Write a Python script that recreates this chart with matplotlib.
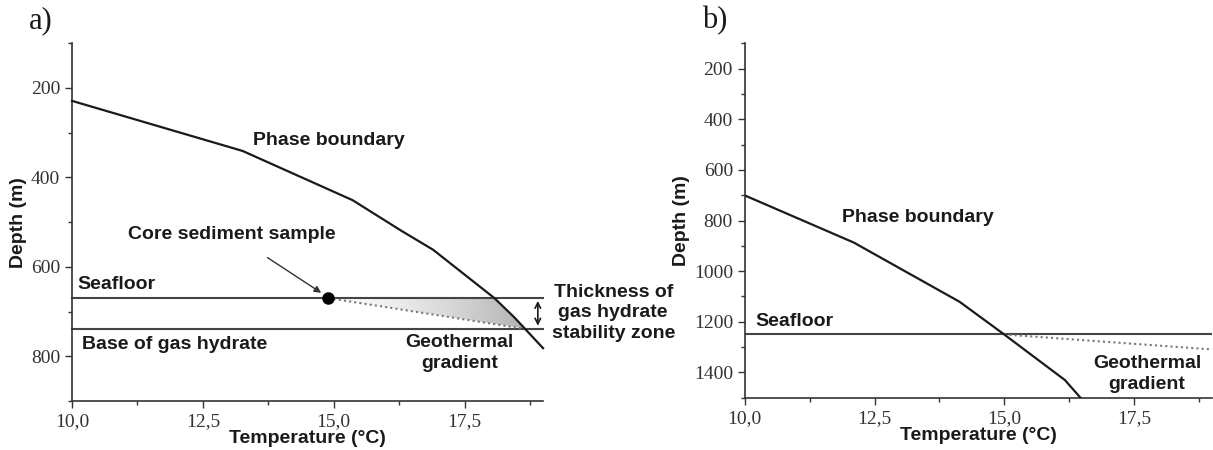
import numpy as np
import matplotlib
matplotlib.use("Agg")
import matplotlib.pyplot as plt
from matplotlib.patches import Polygon
from matplotlib.ticker import MultipleLocator, FuncFormatter

# panel a data
phase_a_temp = [10.0, 13.26, 15.36, 16.3, 16.9, 18.07, 18.45, 19.0]
phase_a_depth = [229, 341, 451, 520, 562, 670, 713, 782]
seafloor_a = 670
base_a = 738
core_temp = 14.9
geo_a_temp = [14.9, 18.6]
geo_a_depth = [670, 738]

# panel b data
phase_b_temp = [10.0, 12.1, 14.14, 15.0, 16.17, 16.47]
phase_b_depth = [701, 887, 1121, 1250, 1430, 1500]
seafloor_b = 1250
geo_b_temp = [15.0, 19.0]
geo_b_depth = [1250, 1309]

plt.rcParams["font.family"] = ["Liberation Sans", "DejaVu Sans"]
SERIF = "Liberation Serif"
INK = "#1a1a1a"
FS = 14

fig = plt.figure(figsize=(12.13, 4.5), dpi=100)
ax1 = fig.add_axes([0.0594, 0.109, 0.3883, 0.795])
ax2 = fig.add_axes([0.614, 0.116, 0.385, 0.788])


def style_axes(ax, ylim, ymajor):
    ax.set_xlim(10, 19)
    ax.set_ylim(*ylim)
    for s in ["top", "right"]:
        ax.spines[s].set_visible(False)
    for s in ["left", "bottom"]:
        ax.spines[s].set_color("#333333")
        ax.spines[s].set_linewidth(1.2)
    ax.xaxis.set_major_locator(MultipleLocator(2.5))
    ax.xaxis.set_minor_locator(MultipleLocator(1.25))
    ax.yaxis.set_major_locator(MultipleLocator(ymajor))
    ax.yaxis.set_minor_locator(MultipleLocator(ymajor / 2))
    ax.xaxis.set_major_formatter(FuncFormatter(lambda v, p: f"{v:.1f}".replace(".", ",")))
    ax.yaxis.set_major_formatter(FuncFormatter(lambda v, p: f"{v:.0f}" if v >= 200 else ""))
    ax.tick_params(which="major", length=5, width=1, color="#333333")
    ax.tick_params(which="minor", length=3, width=1, color="#333333")
    for lab in ax.get_xticklabels() + ax.get_yticklabels():
        lab.set_fontfamily(SERIF)
        lab.set_fontsize(14)
        lab.set_color("#333333")
    ax.set_xlabel("Temperature (°C)", fontsize=FS, fontweight="bold", labelpad=0, color=INK)
    ax.set_ylabel("Depth (m)", fontsize=FS, fontweight="bold", labelpad=3, color=INK)


style_axes(ax1, (900, 100), 200)
style_axes(ax2, (1500, 100), 200)

# ---- panel a ----
# shaded stability zone between seafloor, phase boundary and geothermal gradient
cross_t = np.interp(seafloor_a, phase_a_depth, phase_a_temp)
base_t = np.interp(base_a, phase_a_depth, phase_a_temp)
poly_pts = [(core_temp, seafloor_a), (cross_t, seafloor_a)]
for t, d in zip(phase_a_temp, phase_a_depth):
    if seafloor_a < d < base_a:
        poly_pts.append((t, d))
poly_pts += [(base_t, base_a), (geo_a_temp[0], geo_a_depth[0])]
poly = Polygon(poly_pts, closed=True, facecolor="none", edgecolor="none")
ax1.add_patch(poly)
grad = np.linspace(0, 1, 256).reshape(1, -1)
im = ax1.imshow(grad, extent=[core_temp, base_t, base_a, seafloor_a], cmap="Greys",
                vmin=0, vmax=2.4, aspect="auto", zorder=1)
im.set_clip_path(poly)

ax1.plot(phase_a_temp, phase_a_depth, color=INK, lw=1.6, zorder=3, clip_on=False)
ax1.plot([10, 19], [seafloor_a, seafloor_a], color="#444444", lw=1.5, zorder=2, clip_on=False)
ax1.plot([10, 19], [base_a, base_a], color="#444444", lw=1.5, zorder=2, clip_on=False)
ax1.plot(geo_a_temp, geo_a_depth, color="#777777", lw=1.5, ls=(0, (1, 1.5)), zorder=2)
ax1.plot([core_temp], [seafloor_a], "o", color="black", ms=8, zorder=4)

ax1.annotate("", xy=(18.9, seafloor_a), xytext=(18.9, base_a),
             arrowprops=dict(arrowstyle="<->", color=INK, lw=1.2, mutation_scale=10))
ax1.annotate("Core sediment sample", xy=(core_temp - 0.05, seafloor_a - 5),
             xytext=(13.05, 527), ha="center", va="center", fontsize=FS,
             fontweight="bold", color=INK,
             arrowprops=dict(arrowstyle="-|>", color="#333333", lw=1,
                             mutation_scale=10, shrinkA=16, shrinkB=4))

ax1.text(14.9, 318, "Phase boundary", fontsize=FS, fontweight="bold", color=INK,
         ha="center", va="center")
ax1.text(10.1, 640, "Seafloor", fontsize=FS, fontweight="bold", color=INK, va="center")
ax1.text(10.19, 774, "Base of gas hydrate", fontsize=FS, fontweight="bold", color=INK,
         va="center")
ax1.text(17.4, 792, "Geothermal\ngradient", fontsize=FS, fontweight="bold", color=INK,
         ha="center", va="center", linespacing=1.3)
ax1.text(1.149, 0.246, "Thickness of\ngas hydrate\nstability zone", transform=ax1.transAxes,
         fontsize=FS, fontweight="bold", color=INK, ha="center", va="center",
         linespacing=1.3)

# ---- panel b ----
ax2.plot(phase_b_temp, phase_b_depth, color=INK, lw=1.6, zorder=3)
ax2.plot([10, 19], [seafloor_b, seafloor_b], color="#444444", lw=1.5, zorder=2)
ax2.plot(geo_b_temp, geo_b_depth, color="#777777", lw=1.5, ls=(0, (1, 1.5)), zorder=2)
ax2.text(11.87, 790, "Phase boundary", fontsize=FS, fontweight="bold", color=INK,
         va="center")
ax2.text(10.2, 1200, "Seafloor", fontsize=FS, fontweight="bold", color=INK, va="center")
ax2.text(17.75, 1405, "Geothermal\ngradient", fontsize=FS, fontweight="bold", color=INK,
         ha="center", va="center", linespacing=1.3)

fig.text(0.024, 0.955, "a)", fontsize=22, fontfamily=SERIF, color=INK, va="center")
fig.text(0.579, 0.955, "b)", fontsize=22, fontfamily=SERIF, color=INK, va="center")

fig.savefig("out.png", dpi=100)
